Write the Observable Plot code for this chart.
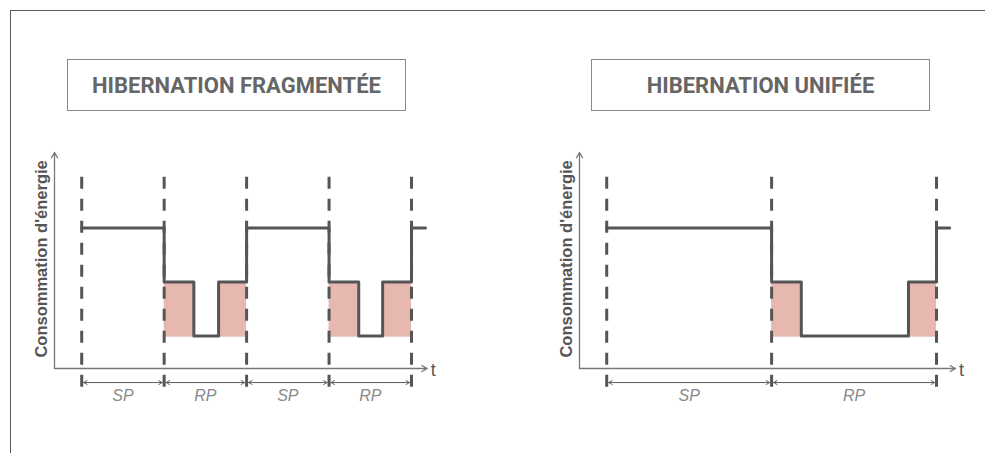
<!DOCTYPE html>
<html>
<head>
<meta charset="utf-8">
<script src="https://cdn.jsdelivr.net/npm/d3@7"></script>
<script src="https://cdn.jsdelivr.net/npm/@observablehq/plot@0.6"></script>
<style>
html, body { margin: 0; padding: 0; background: #fff; }
#wrap { position: relative; width: 985px; height: 453px; overflow: hidden; background: #fff; }
#frame { position: absolute; left: 10px; top: 10px; right: -2px; bottom: -2px; border-top: 1px solid #5a5a5a; border-left: 1px solid #5a5a5a; }
.title { position: absolute; box-sizing: border-box; border: 1.5px solid #8a8a8a; display: flex; align-items: center; justify-content: center; font-family: Roboto, sans-serif; font-weight: 700; font-size: 22px; color: #666; }
.panel { position: absolute; top: 140px; }
.panel svg { overflow: visible; }
</style>
</head>
<body>
<div id="wrap">
  <div id="frame"></div>
  <div class="title" id="title0" style="left:67px; top:59px; width:339px; height:52px;"></div>
  <div class="title" id="title1" style="left:591px; top:59px; width:339px; height:52px;"></div>
  <div class="panel" id="panel0" style="left:10px;"></div>
  <div class="panel" id="panel1" style="left:530px;"></div>
</div>
<script>
// ---- Texts ----
const panelTitles = ["HIBERNATION FRAGMENTÉE", "HIBERNATION UNIFIÉE"];
const yLabel = "Consommation d'énergie";
const xLabel = "t";

// ---- Energy levels (arbitrary units) ----
const highLevel = 2.6;
const midLevel = 1.6;
const lowLevel = 0.6;

// ---- Fragmented hibernation ----
const fragTimes  = [0, 1, 1.36, 1.66, 2, 3, 3.36, 3.65, 4, 4.17];
const fragLevels = [highLevel, midLevel, lowLevel, midLevel, highLevel, midLevel, lowLevel, midLevel, highLevel, highLevel];
const fragBounds = [0, 1, 2, 3, 4];
const fragPhases = ["SP", "RP", "SP", "RP"];
const fragFillStart = [1, 1.66, 3, 3.65];
const fragFillEnd   = [1.36, 2, 3.36, 4];

// ---- Unified hibernation ----
const uniTimes  = [0, 2, 2.36, 3.66, 4, 4.16];
const uniLevels = [highLevel, midLevel, lowLevel, midLevel, highLevel, highLevel];
const uniBounds = [0, 2, 4];
const uniPhases = ["SP", "RP"];
const uniFillStart = [2, 3.66];
const uniFillEnd   = [2.36, 4];

// ---- Axis geometry (data units) ----
const axisOrigin = -0.33;
const axisTop = 4.0;
const dashTop = 3.54;
const dashBottom = -0.37;
const spanY = -0.26;
const spanLabelY = -0.5;
const yLabelPos = 2.03;

function panel(times, levels, bounds, phases, fillStart, fillEnd, xMax, rangeStart, widthPx) {
  const steps = times.map((t, i) => ({t, e: levels[i]}));
  const fills = fillStart.map((s, i) => ({x1: s, x2: fillEnd[i]}));
  const spans = phases.map((p, i) => ({a: bounds[i], b: bounds[i + 1], label: p, m: (bounds[i] + bounds[i + 1]) / 2}));
  const pxPerUnit = 82.45;
  const ink = "#555";
  return Plot.plot({
    width: widthPx,
    height: 280,
    margin: 0,
    x: {domain: [axisOrigin, xMax], range: [rangeStart, rangeStart + (xMax - axisOrigin) * pxPerUnit], axis: null},
    y: {domain: [-0.6, 4.0], range: [260.4, 12], axis: null},
    style: {fontFamily: "'Liberation Sans', Arial, sans-serif", background: "transparent", overflow: "visible"},
    marks: [
      Plot.rect(fills, {x1: "x1", x2: "x2", y1: () => lowLevel - 0.02, y2: () => midLevel, fill: "#e7b8b0"}),
      Plot.ruleX(bounds, {x: d => d, y1: () => dashTop, y2: () => dashBottom, stroke: ink, strokeWidth: 3, strokeDasharray: "12,10"}),
      Plot.arrow([0], {x1: () => axisOrigin, y1: () => 0, x2: () => axisOrigin, y2: () => axisTop, stroke: "#777", strokeWidth: 1.3, headLength: 7}),
      Plot.arrow([0], {x1: () => axisOrigin, y1: () => 0, x2: () => xMax, y2: () => 0, stroke: "#777", strokeWidth: 1.3, headLength: 7}),
      Plot.line(steps, {x: "t", y: "e", curve: "step-after", stroke: ink, strokeWidth: 3}),
      Plot.arrow(spans, {x1: "a", x2: "b", y1: () => spanY, y2: () => spanY, stroke: "#666", strokeWidth: 1, headLength: 6, insetStart: 2, insetEnd: 2}),
      Plot.arrow(spans, {x1: "b", x2: "a", y1: () => spanY, y2: () => spanY, stroke: "#666", strokeWidth: 1, headLength: 6, insetStart: 2, insetEnd: 2}),
      Plot.text(spans, {x: "m", y: () => spanLabelY, text: "label", fontStyle: "italic", fill: "#888", fontSize: 16}),
      Plot.text([yLabel], {x: () => axisOrigin, y: () => yLabelPos, text: d => d, dx: -13, rotate: -90, fontWeight: "bold", fontSize: 16.5, fill: ink}),
      Plot.text([xLabel], {x: () => xMax, y: () => 0, text: d => d, dx: 6, dy: 2, fontSize: 18, fill: ink})
    ]
  });
}

document.getElementById("title0").textContent = panelTitles[0];
document.getElementById("title1").textContent = panelTitles[1];
document.getElementById("panel0").appendChild(panel(fragTimes, fragLevels, fragBounds, fragPhases, fragFillStart, fragFillEnd, 4.19, 44, 470));
document.getElementById("panel1").appendChild(panel(uniTimes, uniLevels, uniBounds, uniPhases, uniFillStart, uniFillEnd, 4.23, 49, 455));
</script>
</body>
</html>
